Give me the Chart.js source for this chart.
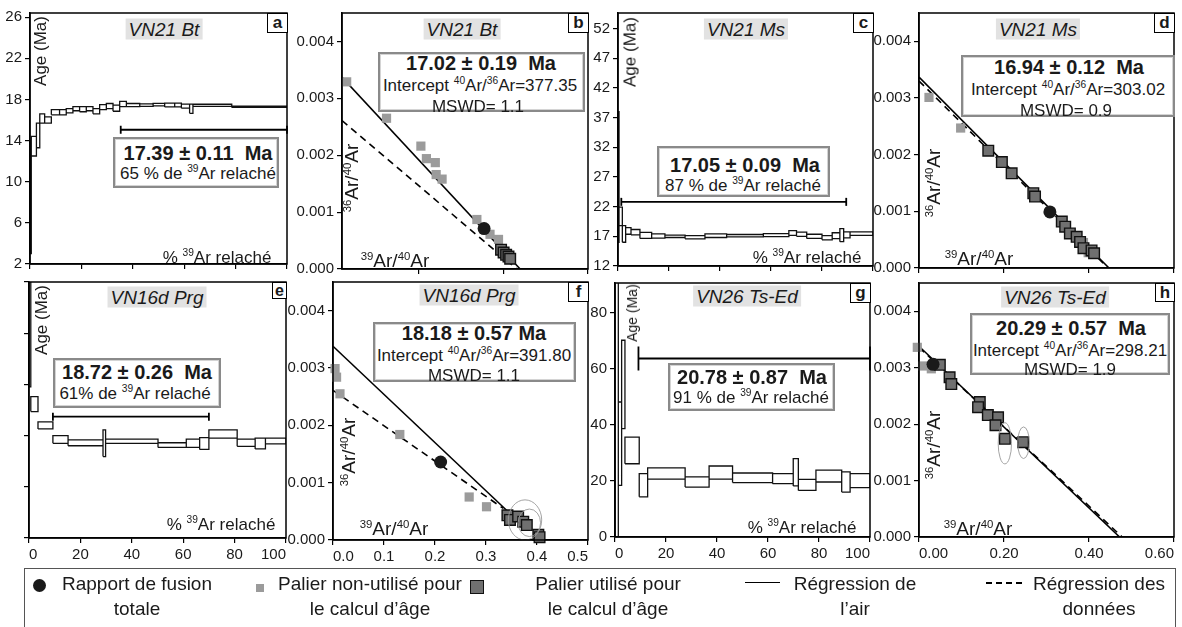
<!DOCTYPE html>
<html>
<head>
<meta charset="utf-8">
<script src="https://cdn.jsdelivr.net/npm/chart.js@4.4.0/dist/chart.umd.min.js"></script>
<style>
  body { margin: 0; width: 1182px; height: 627px; overflow: hidden; position: relative; background: #fff;
         font-family: "Liberation Sans", Arial, Helvetica, sans-serif; color: #1a1a1a; }
  canvas { position: absolute; }
  .c { position: absolute; transform: translate(-50%, -50%); white-space: nowrap; line-height: 1; }
  .v { position: absolute; transform: translate(-50%, -50%) rotate(-90deg); white-space: nowrap; line-height: 1; }
  .ttl { font-style: italic; font-size: 19px; background: #e2e2e2; padding: 1px 3px; }
  .lt { position: absolute; border: 1.5px solid #000; background: #fff; font-weight: bold; font-size: 17px;
        text-align: center; box-sizing: border-box; line-height: 17px; }
  .rb { position: absolute; background: #fff; border: 2px solid #8a8a8a; box-shadow: inset 0 0 0 1px #d4d4d4; box-sizing: border-box; }
  .big { font-weight: bold; font-size: 20px; }
  .m { font-size: 17px; }
  .ax { font-size: 19px; }
  .lg { font-size: 19px; }
  .s { font-size: 0.6em; vertical-align: 0.6em; }
</style>
</head>
<body>
<script>
const FONT = '"Liberation Sans", Arial, Helvetica, sans-serif';

// ---- age spectra : cumulative % 39Ar step limits, apparent age (Ma), error (Ma)
const aSteps = [0, 0.5, 2.5, 3.8, 5.7, 8.3, 11.5, 14.1, 16.7, 19.3, 21.9, 24.5, 27.1, 29.7, 32.3, 34.9, 37.5, 42.7, 47.9, 52.4, 56.3, 58.9, 62.1, 63.4, 78.5, 100];
const aAges = [8.5, 13.45, 14.5, 16.15, 16.0, 16.75, 16.75, 16.9, 17.1, 17.05, 17.1, 16.85, 17.25, 17.35, 17.15, 17.55, 17.45, 17.45, 17.5, 17.45, 17.45, 17.35, 17.1, 17.43, 17.28];
const aErrs = [5.5, 0.95, 1.2, 0.45, 0.3, 0.25, 0.25, 0.2, 0.2, 0.25, 0.2, 0.25, 0.25, 0.25, 0.3, 0.25, 0.15, 0.12, 0.12, 0.18, 0.18, 0.2, 0.45, 0.1, 0.06];
const aPlateauX = [35.3, 100];
const aPlateauY = 15.05;

const cSteps = [0, 0.4, 1.7, 3.0, 5.1, 8.6, 13.2, 18.4, 26.3, 34.1, 42.6, 57, 67, 70, 74, 80, 84, 87, 88.5, 91, 100];
const cAges = [27, 20.35, 17.4, 17.9, 17.7, 17.15, 17.05, 17.0, 16.85, 17.1, 17.1, 17.2, 17.55, 17.35, 17.0, 16.75, 17.1, 17.2, 17.25, 17.45];
const cErrs = [11, 1.55, 1.4, 0.55, 0.45, 0.5, 0.35, 0.2, 0.28, 0.3, 0.2, 0.25, 0.4, 0.35, 0.35, 0.35, 0.5, 1.1, 0.5, 0.3];
const cPlateauX = [1.3, 89.5];
const cPlateauY = 22.8;

const eSteps = [0, 0.7, 3.5, 9.3, 15.2, 28.8, 29.8, 50.2, 61.2, 66.4, 70.0, 81.0, 88.0, 92.0, 100];
const eAges = [40, 26.15, 22.0, 19.25, 18.6, 18.5, 18.9, 18.15, 18.5, 18.45, 20.3, 18.6, 18.45, 18.95];
const eErrs = [10.5, 1.45, 0.7, 0.75, 0.58, 2.6, 0.4, 0.45, 0.8, 1.15, 0.8, 0.7, 1.05, 0.55];
const ePlateauX = [9.3, 70.0];
const ePlateauY = 23.7;

const gSteps = [0, 1.3, 2.6, 3.9, 9.5, 12.8, 27.5, 36.9, 46.1, 61.8, 69.9, 71.9, 78.8, 88.9, 92.2, 100];
const gAges = [45, 33.25, 54.35, 30.85, 18.45, 22.6, 19.6, 22.95, 21.1, 20.8, 23.05, 18.55, 21.7, 19.6, 20.1];
const gErrs = [46, 14.85, 15.75, 4.75, 4.15, 2.0, 1.8, 2.35, 1.7, 1.8, 4.85, 1.95, 2.1, 3.6, 2.5];
const gPlateauX = [9.2, 100];
const gPlateauY = 63.6;

// ---- inverse isochrons : 39Ar/40Ar (x), 36Ar/40Ar (y)
const bUnusedX = [0.031, 0.125, 0.206, 0.219, 0.240, 0.242, 0.256, 0.338, 0.369, 0.389];
const bUnusedY = [0.00329, 0.00265, 0.00216, 0.00194, 0.00187, 0.00166, 0.00158, 0.00087, 0.00061, 0.00052];
const bUsedX = [0.395, 0.401, 0.407, 0.4125, 0.4165];
const bUsedY = [0.00034, 0.00029, 0.00025, 0.00022, 0.00018];
const bTotal = [0.355, 0.00071];
const bAirX = [0.02, 0.44], bAirY = [0.00337, 0];
const bFitX = [0.02, 0.432], bFitY = [0.00261, 0];

const dUnusedX = [0.0235, 0.098, 0.387, 0.398];
const dUnusedY = [0.00301, 0.00247, 0.00045, 0.00027];
const dUsedX = [0.163, 0.195, 0.218, 0.269, 0.273, 0.336, 0.344, 0.355, 0.371, 0.379, 0.387, 0.406, 0.412];
const dUsedY = [0.00207, 0.00187, 0.00167, 0.00132, 0.00126, 0.00082, 0.00073, 0.00061, 0.00055, 0.00046, 0.00035, 0.00031, 0.00026];
const dTotal = [0.308, 0.00099];
const dAirX = [0, 0.447], dAirY = [0.00337, 0];
const dFitX = [0, 0.445], dFitY = [0.00330, 0];

const fUnusedX = [0.004, 0.007, 0.0137, 0.131, 0.267, 0.301];
const fUnusedY = [0.00299, 0.00284, 0.00255, 0.00184, 0.00075, 0.00058];
const fUsedX = [0.342, 0.347, 0.363, 0.373, 0.380, 0.4026, 0.405];
const fUsedY = [0.00043, 0.00035, 0.00041, 0.00032, 0.00026, 0.00009, 0.00005];
const fTotal = [0.211, 0.00136];
const fAirX = [0, 0.345], fAirY = [0.00338, 0.00048];
const fFitX = [0, 0.334], fFitY = [0.00261, 0.00055];
const fEllipses = [[0.3765, 0.00035, 0.0327, 0.00035], [0.385, 0.0003, 0.022, 0.00024]];

const hUnusedX = [-0.004, 0.009, 0.029];
const hUnusedY = [0.00336, 0.00303, 0.00298];
const hUsedX = [0.049, 0.072, 0.076, 0.143, 0.139, 0.162, 0.186, 0.180, 0.202, 0.245];
const hUsedY = [0.00305, 0.00283, 0.00271, 0.00239, 0.00230, 0.00216, 0.00212, 0.00198, 0.00174, 0.00168];
const hTotal = [0.033, 0.00306];
const hAirX = [0, 0.472], hAirY = [0.00338, 0];
const hFitX = [0, 0.478], hFitY = [0.00336, 0];
const hEllipses = [[0.202, 0.00166, 0.0157, 0.000365], [0.246, 0.00167, 0.0137, 0.00028]];

// ---- ticks
const pctTicks = [0, 20, 40, 60, 80, 100];
const pctLabels = ['0', '20', '40', '60', '80', '100'];
const aYTicks = [2, 6, 10, 14, 18, 22, 26];
const cYTicks = [12, 17, 22, 27, 32, 37, 42, 47, 52];
const eYTicks = [0, 10, 20, 30, 40, 50];
const gYTicks = [0, 20, 40, 60, 80];
const isoYTicks = [0, 0.001, 0.002, 0.003, 0.004];
const isoYLabels = ['0.000', '0.001', '0.002', '0.003', '0.004'];
const x06Ticks = [0, 0.2, 0.4, 0.6];
const x06Labels = ['0.00', '0.20', '0.40', '0.60'];
const x05Ticks = [0, 0.1, 0.2, 0.3, 0.4, 0.5];
const x05Labels = ['0.0', '0.1', '0.2', '0.3', '0.4', '0.5'];

const pts = (xs, ys) => xs.map((x, i) => ({ x, y: ys[i] }));

function stepBoxes(steps, ages, errs) {
  const out = [];
  ages.forEach((age, i) => {
    const x0 = steps[i], x1 = steps[i + 1], lo = age - errs[i], hi = age + errs[i];
    out.push({ x: x0, y: lo }, { x: x1, y: lo }, { x: x1, y: hi }, { x: x0, y: hi }, { x: x0, y: lo }, { x: x0, y: null });
  });
  return out;
}

function spectrum(steps, ages, errs, platX, platY, cap) {
  return [
    { data: [{ x: platX[0], y: platY }, { x: platX[1], y: platY }], showLine: true, borderColor: '#000', borderWidth: 1.8,
      pointStyle: 'line', rotation: 90, pointRadius: cap, pointBorderWidth: 1.8, pointBorderColor: '#000', clip: false },
    { data: stepBoxes(steps, ages, errs), showLine: true, spanGaps: false, borderColor: '#111', borderWidth: 1.3, pointRadius: 0 }
  ];
}

function isochron(ux, uy, sx, sy, tot, airX, airY, fitX, fitY) {
  return [
    { data: [{ x: tot[0], y: tot[1] }], pointStyle: 'circle', pointRadius: 6.5, backgroundColor: '#1a1a1a', borderColor: '#1a1a1a', borderWidth: 0, clip: false },
    { data: pts(sx, sy), pointStyle: 'rect', pointRadius: 7.5, backgroundColor: '#707070', borderColor: '#111', borderWidth: 1.4, clip: false },
    { data: pts(ux, uy), pointStyle: 'rect', pointRadius: 6.5, backgroundColor: '#9b9b9b', borderWidth: 0, clip: false },
    { data: pts(airX, airY), showLine: true, borderColor: '#000', borderWidth: 1.6, pointRadius: 0 },
    { data: pts(fitX, fitY), showLine: true, borderColor: '#000', borderWidth: 1.6, borderDash: [7, 5], pointRadius: 0 }
  ];
}

const frame = {
  id: 'frame',
  afterDatasetsDraw(chart, args, opts) {
    const { ctx, chartArea: a, scales: { x, y } } = chart;
    ctx.save();
    ctx.strokeStyle = '#9a9a9a';
    ctx.lineWidth = 0.9;
    (opts.ellipses || []).forEach(e => {
      const cx = x.getPixelForValue(e[0]), cy = y.getPixelForValue(e[1]);
      const rx = Math.abs(x.getPixelForValue(e[0] + e[2]) - cx), ry = Math.abs(y.getPixelForValue(e[1] + e[3]) - cy);
      ctx.beginPath();
      ctx.ellipse(cx, cy, rx, ry, 0, 0, Math.PI * 2);
      ctx.stroke();
    });
    ctx.strokeStyle = '#000';
    ctx.lineWidth = 1.5;
    ctx.strokeRect(a.left, a.top, a.right - a.left, a.bottom - a.top);
    ctx.restore();
  }
};

function axis(a, dir, size) {
  return {
    type: 'linear', min: a.min, max: a.max,
    afterFit: s => {
      if (dir === 'x') s.height = size; else s.width = size;
      s.paddingLeft = s.paddingRight = s.paddingTop = s.paddingBottom = 0;
    },
    afterBuildTicks: s => { s.ticks = a.ticks.map(v => ({ value: v })); },
    ticks: { autoSkip: false, maxRotation: 0, padding: 3, color: '#1a1a1a', font: { family: FONT, size: 15 },
             align: dir === 'x' ? 'inner' : 'center',
             callback: (v, i) => (a.labels ? a.labels[i] : '') },
    grid: { drawOnChartArea: false, drawTicks: true, tickLength: 5, color: '#000', lineWidth: 1.2 },
    border: { color: '#000', width: 1.5 }
  };
}

function panel(box, xa, ya, datasets, ellipses) {
  const padL = 52, padB = 26, padT = 10, padR = 22;
  const cv = document.createElement('canvas');
  cv.width = box[2] - box[0] + padL + padR;
  cv.height = box[3] - box[1] + padT + padB;
  cv.style.left = (box[0] - padL) + 'px';
  cv.style.top = (box[1] - padT) + 'px';
  document.body.appendChild(cv);
  new Chart(cv, {
    type: 'scatter',
    data: { datasets },
    options: {
      responsive: false, animation: false, devicePixelRatio: 1,
      layout: { autoPadding: false, padding: { left: 0, right: padR, top: padT, bottom: 0 } },
      plugins: { legend: { display: false }, tooltip: { enabled: false }, frame: { ellipses: ellipses || [] } },
      scales: { x: axis(xa, 'x', padB), y: axis(ya, 'y', padL) }
    },
    plugins: [frame]
  });
}

// a - VN21 Bt spectrum
panel([30, 13, 287, 264], { min: 0, max: 100, ticks: pctTicks },
  { min: 2, max: 26.4, ticks: aYTicks, labels: aYTicks.map(String) },
  spectrum(aSteps, aAges, aErrs, aPlateauX, aPlateauY, 4));
// b - VN21 Bt isochron
panel([342, 13, 588, 269], { min: 0.02, max: 0.6, ticks: [0.2, 0.4, 0.6] },
  { min: 0, max: 0.0045, ticks: isoYTicks, labels: isoYLabels },
  isochron(bUnusedX, bUnusedY, bUsedX, bUsedY, bTotal, bAirX, bAirY, bFitX, bFitY));
// c - VN21 Ms spectrum
panel([618, 13, 873, 266], { min: 0, max: 100, ticks: pctTicks },
  { min: 12, max: 54.6, ticks: cYTicks, labels: cYTicks.map(String) },
  spectrum(cSteps, cAges, cErrs, cPlateauX, cPlateauY, 4));
// d - VN21 Ms isochron
panel([919, 13, 1174, 268], { min: 0, max: 0.6, ticks: x06Ticks },
  { min: 0, max: 0.0045, ticks: isoYTicks, labels: isoYLabels },
  isochron(dUnusedX, dUnusedY, dUsedX, dUsedY, dTotal, dAirX, dAirY, dFitX, dFitY));
// e - VN16d Prg spectrum
panel([29, 282, 286, 538], { min: 0, max: 100, ticks: pctTicks, labels: pctLabels },
  { min: 0, max: 50, ticks: eYTicks },
  spectrum(eSteps, eAges, eErrs, ePlateauX, ePlateauY, 4));
// f - VN16d Prg isochron
panel([333, 282, 588, 540], { min: 0, max: 0.5, ticks: x05Ticks, labels: x05Labels },
  { min: 0, max: 0.0045, ticks: isoYTicks, labels: isoYLabels },
  isochron(fUnusedX, fUnusedY, fUsedX, fUsedY, fTotal, fAirX, fAirY, fFitX, fFitY), fEllipses);
// g - VN26 Ts-Ed spectrum
panel([615, 283, 870, 537], { min: 0, max: 100, ticks: pctTicks, labels: pctLabels },
  { min: 0, max: 90.5, ticks: gYTicks, labels: gYTicks.map(String) },
  spectrum(gSteps, gAges, gErrs, gPlateauX, gPlateauY, 12));
// h - VN26 Ts-Ed isochron
panel([919, 283, 1174, 537], { min: 0, max: 0.6, ticks: x06Ticks, labels: x06Labels },
  { min: 0, max: 0.0045, ticks: isoYTicks, labels: isoYLabels },
  isochron(hUnusedX, hUnusedY, hUsedX, hUsedY, hTotal, hAirX, hAirY, hFitX, hFitY), hEllipses);
</script>

<!-- a -->
<div class="c ttl" style="left:164px;top:29px">VN21 Bt</div>
<div class="lt" style="left:267px;top:13px;width:21px;height:20px">a</div>
<div class="rb" style="left:113px;top:137px;width:166px;height:51px"></div>
<div class="c big" style="left:198px;top:153px">17.39 ± 0.11&nbsp; Ma</div>
<div class="c m" style="left:198px;top:173px">65 % de <span class="s">39</span>Ar relaché</div>
<div class="v m" style="left:40px;top:51px">Age (Ma)</div>
<div class="c m" style="left:217px;top:257px">% <span class="s">39</span>Ar relaché</div>

<!-- b -->
<div class="c ttl" style="left:462px;top:29px">VN21 Bt</div>
<div class="lt" style="left:568px;top:13px;width:21px;height:20px">b</div>
<div class="rb" style="left:378px;top:52px;width:207px;height:60px"></div>
<div class="c big" style="left:481px;top:63px">17.02 ± 0.19&nbsp; Ma</div>
<div class="c m" style="left:480px;top:85px">Intercept <span class="s">40</span>Ar/<span class="s">36</span>Ar=377.35</div>
<div class="c m" style="left:478px;top:106px">MSWD= 1.1</div>
<div class="v ax" style="left:351px;top:178px"><span class="s">36</span>Ar/<span class="s">40</span>Ar</div>
<div class="c ax" style="left:395px;top:260px"><span class="s">39</span>Ar/<span class="s">40</span>Ar</div>

<!-- c -->
<div class="c ttl" style="left:746px;top:29px">VN21 Ms</div>
<div class="lt" style="left:853px;top:13px;width:21px;height:20px">c</div>
<div class="rb" style="left:657px;top:146px;width:173px;height:51px"></div>
<div class="c big" style="left:745px;top:165px">17.05 ± 0.09&nbsp; Ma</div>
<div class="c m" style="left:743px;top:185px">87 % de <span class="s">39</span>Ar relaché</div>
<div class="v m" style="left:630px;top:52px">Age (Ma)</div>
<div class="c m" style="left:807px;top:257px">% <span class="s">39</span>Ar relaché</div>

<!-- d -->
<div class="c ttl" style="left:1038px;top:29px">VN21 Ms</div>
<div class="lt" style="left:1154px;top:13px;width:21px;height:20px">d</div>
<div class="rb" style="left:961px;top:55px;width:214px;height:62px"></div>
<div class="c big" style="left:1069px;top:67px">16.94 ± 0.12&nbsp; Ma</div>
<div class="c m" style="left:1068px;top:89px">Intercept <span class="s">40</span>Ar/<span class="s">36</span>Ar=303.02</div>
<div class="c m" style="left:1066px;top:110px">MSWD= 0.9</div>
<div class="v ax" style="left:933px;top:183px"><span class="s">36</span>Ar/<span class="s">40</span>Ar</div>
<div class="c ax" style="left:979px;top:258px"><span class="s">39</span>Ar/<span class="s">40</span>Ar</div>

<!-- e -->
<div class="c ttl" style="left:157px;top:297px">VN16d Prg</div>
<div class="lt" style="left:272px;top:282px;width:15px;height:17px;font-size:16px;line-height:15px">e</div>
<div class="rb" style="left:53px;top:358px;width:168px;height:50px"></div>
<div class="c big" style="left:137px;top:372px">18.72 ± 0.26&nbsp; Ma</div>
<div class="c m" style="left:135px;top:393px">61% de <span class="s">39</span>Ar relaché</div>
<div class="v m" style="left:41px;top:320px">Age (Ma)</div>
<div class="c m" style="left:221px;top:524px">% <span class="s">39</span>Ar relaché</div>

<!-- f -->
<div class="c ttl" style="left:469px;top:295px">VN16d Prg</div>
<div class="lt" style="left:568px;top:282px;width:21px;height:20px">f</div>
<div class="rb" style="left:373px;top:322px;width:203px;height:60px"></div>
<div class="c big" style="left:474px;top:333px">18.18 ± 0.57 Ma</div>
<div class="c m" style="left:474px;top:355px">Intercept <span class="s">40</span>Ar/<span class="s">36</span>Ar=391.80</div>
<div class="c m" style="left:474px;top:375px">MSWD= 1.1</div>
<div class="v ax" style="left:348px;top:452px"><span class="s">36</span>Ar/<span class="s">40</span>Ar</div>
<div class="c ax" style="left:394px;top:528px"><span class="s">39</span>Ar/<span class="s">40</span>Ar</div>

<!-- g -->
<div class="c ttl" style="left:747px;top:296px">VN26 Ts-Ed</div>
<div class="lt" style="left:850px;top:283px;width:21px;height:20px">g</div>
<div class="rb" style="left:668px;top:363px;width:167px;height:48px"></div>
<div class="c big" style="left:752px;top:377px">20.78 ± 0.87&nbsp; Ma</div>
<div class="c m" style="left:751px;top:397px">91 % de <span class="s">39</span>Ar relaché</div>
<div class="v" style="left:632px;top:313px;font-size:14px">Age (Ma)</div>
<div class="c m" style="left:802px;top:527px">% <span class="s">39</span>Ar relaché</div>

<!-- h -->
<div class="c ttl" style="left:1055px;top:297px">VN26 Ts-Ed</div>
<div class="lt" style="left:1155px;top:283px;width:20px;height:19px">h</div>
<div class="rb" style="left:970px;top:313px;width:200px;height:62px"></div>
<div class="c big" style="left:1071px;top:328px">20.29 ± 0.57&nbsp; Ma</div>
<div class="c m" style="left:1070px;top:350px">Intercept <span class="s">40</span>Ar/<span class="s">36</span>Ar=298.21</div>
<div class="c m" style="left:1070px;top:369px">MSWD= 1.9</div>
<div class="v ax" style="left:933px;top:445px"><span class="s">36</span>Ar/<span class="s">40</span>Ar</div>
<div class="c ax" style="left:978px;top:528px"><span class="s">39</span>Ar/<span class="s">40</span>Ar</div>

<!-- legend -->
<div style="position:absolute;left:24px;top:568px;width:1152px;height:80px;border:1.5px solid #555;box-sizing:border-box"></div>
<div style="position:absolute;left:33px;top:579px;width:13px;height:13px;border-radius:50%;background:#1a1a1a"></div>
<div class="c lg" style="left:137px;top:583px">Rapport de fusion</div>
<div class="c lg" style="left:137px;top:608px">totale</div>
<div style="position:absolute;left:256px;top:584px;width:8px;height:8px;background:#9b9b9b"></div>
<div class="c lg" style="left:370px;top:583px">Palier non-utilisé pour</div>
<div class="c lg" style="left:370px;top:608px">le calcul d’âge</div>
<div style="position:absolute;left:470px;top:580px;width:12px;height:12px;background:#707070;border:1.4px solid #111"></div>
<div class="c lg" style="left:608px;top:583px">Palier utilisé pour</div>
<div class="c lg" style="left:608px;top:608px">le calcul d’âge</div>
<div style="position:absolute;left:745px;top:582px;width:35px;height:0;border-top:1.5px solid #000"></div>
<div class="c lg" style="left:855px;top:583px">Régression de</div>
<div class="c lg" style="left:855px;top:608px">l’air</div>
<div style="position:absolute;left:986px;top:582px;width:36px;height:1.5px;background:repeating-linear-gradient(to right,#000 0 6px,transparent 6px 10px)"></div>
<div class="c lg" style="left:1099px;top:583px">Régression des</div>
<div class="c lg" style="left:1099px;top:608px">données</div>
</body>
</html>
